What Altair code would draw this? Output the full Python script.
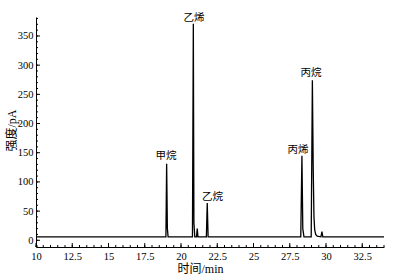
import altair as alt
import pandas as pd

# chromatogram trace (retention time in min, intensity in pA)
time_min = [10.0, 18.96, 19.01, 19.06, 19.11, 20.79, 20.85, 20.89, 20.95, 21.07, 21.12, 21.17,
            21.75, 21.81, 21.87, 28.26, 28.34, 28.40, 28.48, 28.98, 29.06, 29.12, 29.17, 29.22,
            29.29, 29.39, 29.65, 29.72, 29.78, 34.0]
intensity = [6, 6, 131, 20, 6, 6, 371, 30, 6, 6, 20, 6,
             6, 64, 6, 6, 145, 20, 6, 6, 274, 120, 40, 18,
             10, 7, 6, 15, 6, 6]

# peak labels
peak_names = ["甲烷", "乙烯", "乙烷", "丙烯", "丙烷"]
label_t = [18.97, 20.9, 22.17, 28.07, 28.97]
label_y = [145, 381, 74, 155, 286]

# axis ticks
x_major = [10, 12.5, 15, 17.5, 20, 22.5, 25, 27.5, 30, 32.5]
y_major = [0, 50, 100, 150, 200, 250, 300, 350]
x_minor = [10 + 0.5 * i for i in range(49)]
y_minor = [-10 + 10 * i for i in range(40)]

X_DOMAIN = [10, 34]
Y_DOMAIN = [-11.5, 382.5]
W, H = 348, 230
SERIF = "Liberation Serif"
CJK = "Liberation Serif, Noto Sans CJK SC"

trace = pd.DataFrame({"t": time_min, "y": intensity})
labels = pd.DataFrame({"name": peak_names, "t": label_t, "y": label_y})

xs = alt.Scale(domain=X_DOMAIN, nice=False, zero=False)
ys = alt.Scale(domain=Y_DOMAIN, nice=False, zero=False)

x_axis = alt.Axis(
    values=x_major, labelExpr="format(datum.value, '.1~f')", ticks=False, grid=False,
    domainColor="black", domainWidth=1,
    labelFont=SERIF, labelFontSize=10.5, labelColor="black", labelPadding=4,
    labelOverlap=False, title="时间/min", titleFont=CJK, titleFontSize=12,
    titleFontWeight="normal", titleColor="black", titleX=164, titleY=21,
    titleBaseline="middle", labelFlush=False)
y_axis = alt.Axis(
    values=y_major, labelExpr="format(datum.value, 'd')", ticks=False, grid=False,
    domainColor="black", domainWidth=1,
    labelFont=SERIF, labelFontSize=10.5, labelColor="black", labelPadding=3,
    labelOverlap=False,
    title="强度/pA", titleFont=CJK, titleFontSize=12, titleFontWeight="normal",
    titleColor="black", titleX=-25, titleY=113, titleBaseline="middle", labelFlush=False)

line = alt.Chart(trace).mark_line(color="black", strokeWidth=1.3, interpolate="linear").encode(
    x=alt.X("t:Q", scale=xs, axis=x_axis),
    y=alt.Y("y:Q", scale=ys, axis=y_axis),
)

text = alt.Chart(labels).mark_text(font="Noto Sans CJK SC", fontSize=10.5, color="black",
                                   baseline="middle", align="center").encode(
    x=alt.X("t:Q", scale=xs, axis=x_axis), y=alt.Y("y:Q", scale=ys, axis=y_axis), text="name:N")

xmaj = alt.Chart(pd.DataFrame({"t": x_major})).mark_rule(color="black", strokeWidth=1).encode(
    x=alt.X("t:Q", scale=xs, axis=x_axis), y=alt.value(H), y2=alt.value(H - 4))
xmin = alt.Chart(pd.DataFrame({"t": x_minor})).mark_rule(color="black", strokeWidth=1).encode(
    x=alt.X("t:Q", scale=xs, axis=x_axis), y=alt.value(H), y2=alt.value(H - 2))
ymaj = alt.Chart(pd.DataFrame({"y": y_major})).mark_rule(color="black", strokeWidth=1).encode(
    y=alt.Y("y:Q", scale=ys, axis=y_axis), x=alt.value(0), x2=alt.value(4))
ymin = alt.Chart(pd.DataFrame({"y": y_minor})).mark_rule(color="black", strokeWidth=1).encode(
    y=alt.Y("y:Q", scale=ys, axis=y_axis), x=alt.value(0), x2=alt.value(2))

chart = alt.layer(line, text, xmaj, xmin, ymaj, ymin).properties(
    width=W, height=H,
    autosize=alt.AutoSizeParams(type="none"),
    padding={"left": 36, "top": 17, "right": 9, "bottom": 31},
    background="white",
).configure_view(stroke=None)

chart.save("out.html", embed_options={"renderer": "svg", "actions": False})
